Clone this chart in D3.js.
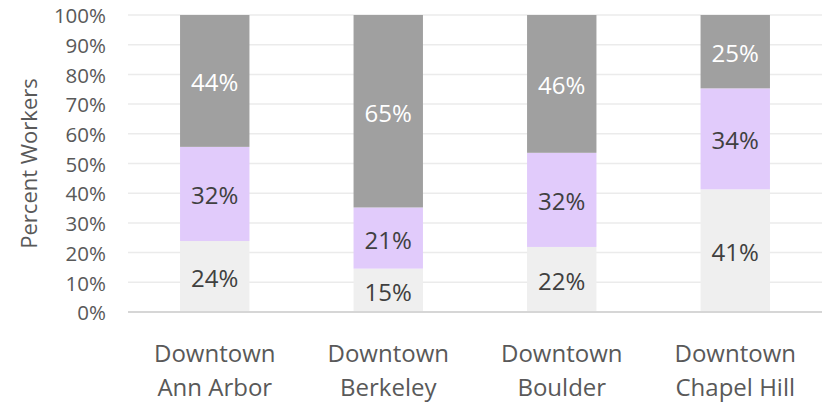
<!DOCTYPE html>
<html><head><meta charset="utf-8">
<script src="https://cdn.jsdelivr.net/npm/d3@7"></script>
<style>body{margin:0;background:#fff}svg{display:block}text{font-family:"Open Sans",sans-serif}</style>
</head><body><svg id="c" width="825" height="402"></svg>
<script>
const categories = [["Downtown","Ann Arbor"],["Downtown","Berkeley"],["Downtown","Boulder"],["Downtown","Chapel Hill"]];
const seriesNames = ["bottom","middle","top"];
const bottomValues = [23.9, 14.6, 21.9, 41.3];
const middleValues = [31.7, 20.6, 31.7, 34.0];
const topValues = [44.4, 64.8, 46.4, 24.7];
const yTicks = [0,10,20,30,40,50,60,70,80,90,100];
const colors = ["#efefef","#e1cbfb","#a0a0a0"];
const labelColors = ["#404040","#404040","#ffffff"];

const svg = d3.select("#c");
const m = {l:128, r:3, t:15, b:90};
const W = 825, H = 402;
const x = d3.scaleBand().domain(d3.range(categories.length)).range([m.l, W-m.r]).paddingInner(0.6).paddingOuter(0.3);
const y = d3.scaleLinear().domain([0,100]).range([H-m.b, m.t]);

const rows = categories.map((c,i)=>({i, bottom:bottomValues[i], middle:middleValues[i], top:topValues[i]}));
const stack = d3.stack().keys(seriesNames)(rows);

// gridlines
svg.append("g").selectAll("line").data(yTicks.filter(t=>t>0)).join("line")
  .attr("x1",m.l).attr("x2",W-m.r).attr("y1",d=>y(d)).attr("y2",d=>y(d))
  .attr("stroke","#ebebeb").attr("stroke-width",1.5);

// y axis labels
const ya = svg.append("g").attr("transform",`translate(${m.l},0)`).call(d3.axisLeft(y).tickValues(yTicks).tickFormat(d=>d+"%").tickSize(0).tickPadding(22));
ya.select(".domain").remove();
ya.selectAll("text").attr("font-size",20.5).attr("fill","#595959").attr("font-family","Open Sans").attr("dy","0.38em");

// bars
stack.forEach((s,k)=>{
  svg.append("g").selectAll("rect").data(s).join("rect")
    .attr("x",d=>x(d.data.i)).attr("width",x.bandwidth())
    .attr("y",d=>y(d[1])).attr("height",d=>y(d[0])-y(d[1]))
    .attr("fill",colors[k]);
  svg.append("g").selectAll("text").data(s).join("text")
    .attr("x",d=>x(d.data.i)+x.bandwidth()/2).attr("y",d=>(y(d[0])+y(d[1]))/2+10.5)
    .attr("text-anchor","middle")
    .attr("font-size",24).attr("fill",labelColors[k])
    .text(d=>Math.round(d[1]-d[0])+"%");
});

// baseline axis
svg.append("line").attr("x1",m.l).attr("x2",W-m.r).attr("y1",y(0)).attr("y2",y(0)).attr("stroke","#d6d6d6").attr("stroke-width",2);

// x labels
const xl = svg.append("g").selectAll("text").data(categories).join("text")
  .attr("text-anchor","middle").attr("font-size",24).attr("fill","#595959")
  .attr("transform",(d,i)=>`translate(${x(i)+x.bandwidth()/2},0)`);
xl.each(function(d){
  d3.select(this).selectAll("tspan").data(d).join("tspan").attr("x",0).attr("y",(t,j)=>y(0)+50+j*34.3).text(t=>t);
});

// y title
svg.append("text").attr("transform",`translate(37,${(y(0)+y(100))/2}) rotate(-90)`)
  .attr("text-anchor","middle").attr("font-size",22).attr("fill","#595959").text("Percent Workers");
</script></body></html>
